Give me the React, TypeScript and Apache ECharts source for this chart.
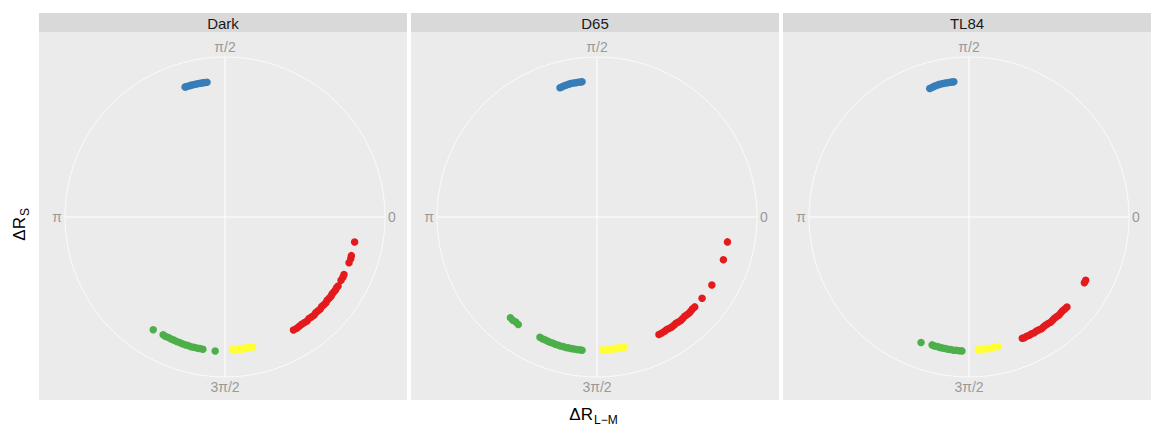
import React, { useEffect, useRef } from "react";
import * as echarts from "echarts";

// Each point is [radius, angle in degrees]; angle 0 points right, 90 up.
type Pt = [number, number];

const panelNames = ["Dark", "D65", "TL84"];
const angleLabelMap: Record<number, string> = { 0: "0", 90: "π/2", 180: "π", 270: "3π/2" };

const colorRed = "#E41A1C";
const colorGreen = "#4DAF4A";
const colorYellow = "#FFFF33";
const colorBlue = "#377EB8";

const darkRed: Pt[] = [
  [0.825, 349.1], [0.826, 343.0], [0.828, 341.6], [0.826, 339.8], [0.826, 334.2],
  [0.828, 332.9], [0.826, 331.4], [0.828, 328.6], [0.826, 327.6], [0.828, 326.5],
  [0.826, 325.4], [0.824, 324.3], [0.828, 323.2], [0.826, 322.0], [0.824, 320.8],
  [0.828, 319.6], [0.826, 318.4], [0.824, 317.2], [0.828, 316.0], [0.826, 314.8],
  [0.824, 313.5], [0.828, 312.2], [0.826, 310.9], [0.824, 309.6], [0.828, 308.3],
  [0.826, 307.0], [0.824, 305.6], [0.826, 304.2], [0.828, 302.8], [0.826, 301.2],
];
const darkGreen: Pt[] = [
  [0.835, 237.5], [0.832, 242.3], [0.834, 243.6], [0.832, 244.9], [0.834, 246.2],
  [0.833, 247.5], [0.835, 248.8], [0.834, 250.1], [0.836, 251.4], [0.837, 252.7],
  [0.836, 254.0], [0.838, 255.3], [0.837, 256.6], [0.838, 257.9], [0.837, 259.2],
  [0.838, 260.5], [0.84, 265.8],
];
const darkYellow: Pt[] = [
  [0.83, 273.2], [0.834, 274.6], [0.827, 275.8], [0.834, 277.2],
  [0.83, 278.6], [0.827, 279.8], [0.833, 281.0], [0.83, 282.0],
];
const darkBlue: Pt[] = [
  [0.85, 97.6], [0.85, 98.6], [0.85, 99.6], [0.85, 100.6], [0.85, 101.6],
  [0.85, 102.6], [0.85, 103.6], [0.85, 104.6], [0.85, 105.6], [0.85, 106.6],
  [0.85, 107.1],
];

const d65Red: Pt[] = [
  [0.83, 349.2], [0.834, 341.3], [0.834, 329.4], [0.83, 322.3], [0.83, 317.4],
  [0.828, 316.2], [0.83, 315.0], [0.832, 313.8], [0.83, 312.6], [0.828, 311.4],
  [0.83, 310.2], [0.832, 309.0], [0.83, 307.8], [0.828, 306.6], [0.83, 305.4],
  [0.832, 304.2], [0.83, 303.0], [0.828, 301.8], [0.83, 300.6], [0.83, 299.2],
  [0.83, 297.8],
];
const d65Green: Pt[] = [
  [0.83, 229.3], [0.833, 230.8], [0.83, 232.3], [0.833, 233.8], [0.832, 244.6],
  [0.834, 245.8], [0.833, 247.0], [0.835, 248.2], [0.836, 249.4], [0.835, 250.6],
  [0.837, 251.8], [0.836, 253.0], [0.838, 254.2], [0.837, 255.4], [0.838, 256.6],
  [0.837, 257.8], [0.838, 259.0], [0.837, 260.2], [0.838, 261.4], [0.837, 262.6],
  [0.838, 263.6],
];
const d65Yellow: Pt[] = [
  [0.83, 272.4], [0.834, 273.8], [0.827, 275.2], [0.834, 276.6],
  [0.83, 278.0], [0.827, 279.4], [0.833, 280.8], [0.83, 282.0],
];
const d65Blue: Pt[] = [
  [0.84, 106.0], [0.842, 105.0], [0.845, 104.0], [0.847, 103.0], [0.849, 102.0],
  [0.85, 101.0], [0.85, 100.0], [0.85, 99.0], [0.85, 98.0], [0.85, 97.0],
  [0.85, 96.3],
];

const tl84Red: Pt[] = [
  [0.83, 331.5], [0.83, 330.3], [0.832, 317.4], [0.83, 316.2], [0.828, 315.0],
  [0.83, 313.8], [0.832, 312.6], [0.83, 311.4], [0.828, 310.2], [0.83, 309.0],
  [0.832, 307.8], [0.83, 306.6], [0.828, 305.4], [0.83, 304.2], [0.832, 303.0],
  [0.83, 301.8], [0.828, 300.6], [0.83, 299.4], [0.828, 298.2], [0.83, 297.0],
  [0.828, 295.8], [0.83, 294.6], [0.828, 293.7],
];
const tl84Green: Pt[] = [
  [0.84, 249.1], [0.832, 253.9], [0.834, 255.0], [0.833, 256.2], [0.835, 257.4],
  [0.836, 258.6], [0.835, 259.8], [0.837, 261.0], [0.836, 262.2], [0.838, 263.4],
  [0.837, 264.6], [0.838, 265.8], [0.838, 267.0],
];
const tl84Yellow: Pt[] = [
  [0.83, 274.0], [0.834, 275.4], [0.827, 276.8], [0.834, 278.2],
  [0.83, 279.6], [0.827, 281.0], [0.83, 282.6],
];
const tl84Blue: Pt[] = [
  [0.84, 107.0], [0.842, 106.0], [0.845, 105.0], [0.847, 104.0], [0.849, 103.0],
  [0.85, 102.0], [0.85, 101.0], [0.85, 100.0], [0.85, 99.0], [0.85, 98.0],
  [0.85, 97.2], [0.85, 96.4],
];

const panelSeries: { red: Pt[]; green: Pt[]; yellow: Pt[]; blue: Pt[] }[] = [
  { red: darkRed, green: darkGreen, yellow: darkYellow, blue: darkBlue },
  { red: d65Red, green: d65Green, yellow: d65Yellow, blue: d65Blue },
  { red: tl84Red, green: tl84Green, yellow: tl84Yellow, blue: tl84Blue },
];

const FONT = "'Liberation Sans', Arial, Helvetica, sans-serif";

// facet layout
const panelLefts = [39, 411, 783];
const panelWidth = 368;
const panelTop = 32;
const panelHeight = 368;
const stripTop = 13;
const stripHeight = 19;
const circleRadius = 160;
const centerY = 217;
const centerOffsetX = 186;

export default function App() {
  const ref = useRef<HTMLDivElement>(null);

  useEffect(() => {
    if (!ref.current) return;
    const chart = echarts.init(ref.current, undefined, { renderer: "svg" });

    const polar = panelLefts.map((left) => ({
      center: [left + centerOffsetX, centerY],
      radius: circleRadius,
    }));

    const angleAxis = panelLefts.map((_, i) => ({
      polarIndex: i,
      type: "value",
      min: 0,
      max: 360,
      interval: 90,
      startAngle: 0,
      clockwise: false,
      axisLine: { show: true, lineStyle: { color: "rgba(255,255,255,0.75)", width: 1 } },
      axisTick: { show: false },
      splitLine: { show: true, lineStyle: { color: "#ffffff", width: 1 } },
      axisLabel: {
        margin: 3,
        color: "#999999",
        fontSize: 14,
        fontFamily: FONT,
        formatter: (v: number) => angleLabelMap[v] ?? "",
      },
    }));

    const radiusAxis = panelLefts.map((_, i) => ({
      polarIndex: i,
      type: "value",
      min: 0,
      max: 1,
      show: false,
    }));

    const series: any[] = [];
    panelSeries.forEach((p, i) => {
      const groups: [Pt[], string][] = [
        [p.red, colorRed],
        [p.green, colorGreen],
        [p.yellow, colorYellow],
        [p.blue, colorBlue],
      ];
      groups.forEach(([data, color]) => {
        series.push({
          type: "scatter",
          coordinateSystem: "polar",
          polarIndex: i,
          data,
          symbol: "circle",
          symbolSize: 7.5,
          itemStyle: { color, opacity: 1 },
          silent: true,
        });
      });
    });

    const graphic: any[] = [];
    panelLefts.forEach((left, i) => {
      graphic.push({
        type: "rect",
        z: -10,
        shape: { x: left, y: panelTop, width: panelWidth, height: panelHeight },
        style: { fill: "#EBEBEB" },
      });
      graphic.push({
        type: "rect",
        z: -10,
        shape: { x: left, y: stripTop, width: panelWidth, height: stripHeight },
        style: { fill: "#D9D9D9" },
      });
      graphic.push({
        type: "text",
        z: 10,
        x: left + panelWidth / 2,
        y: stripTop + stripHeight / 2 + 1,
        style: {
          text: panelNames[i],
          fill: "#1A1A1A",
          fontSize: 15,
          fontFamily: FONT,
          align: "center",
          verticalAlign: "middle",
        },
      });
    });

    // x-axis title ΔR with subscript L−M
    graphic.push({
      type: "group",
      x: 595,
      y: 414,
      children: [
        {
          type: "text",
          x: -2,
          y: 0,
          style: { text: "ΔR", fill: "#000", fontSize: 17, fontFamily: FONT, align: "right", verticalAlign: "middle" },
        },
        {
          type: "text",
          x: -1,
          y: 6,
          style: { text: "L−M", fill: "#000", fontSize: 12, fontFamily: FONT, align: "left", verticalAlign: "middle" },
        },
      ],
    });

    // y-axis title ΔR with subscript S, reading bottom to top
    graphic.push({
      type: "group",
      x: 19,
      y: 222,
      rotation: Math.PI / 2,
      children: [
        {
          type: "text",
          x: 5,
          y: 0,
          style: { text: "ΔR", fill: "#000", fontSize: 17, fontFamily: FONT, align: "right", verticalAlign: "middle" },
        },
        {
          type: "text",
          x: 6,
          y: 6,
          style: { text: "S", fill: "#000", fontSize: 12, fontFamily: FONT, align: "left", verticalAlign: "middle" },
        },
      ],
    });

    chart.setOption({
      animation: false,
      backgroundColor: "#ffffff",
      polar,
      angleAxis,
      radiusAxis,
      series,
      graphic,
    });

    return () => chart.dispose();
  }, []);

  return (
    <div
      ref={ref}
      style={{ position: "fixed", left: 0, top: 0, width: 1152, height: 429 }}
    />
  );
}
